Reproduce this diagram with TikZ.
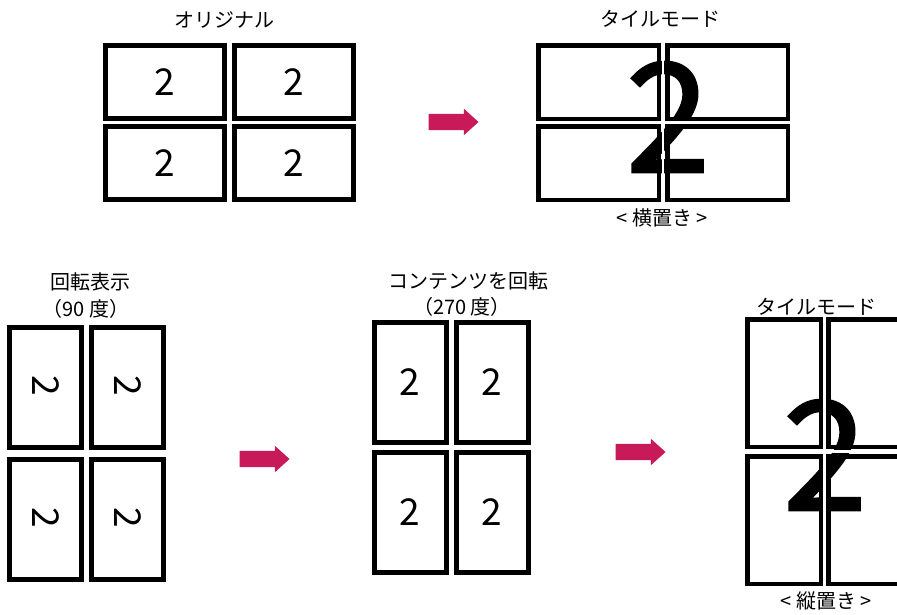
\documentclass[tikz,border=0pt]{standalone}
\usepackage{fontspec}
\setmainfont{Noto Sans CJK JP}
\newfontfamily\heavyfont[FakeBold=1.6]{Noto Sans CJK JP}
\usepackage{graphicx}
\usepackage{tikz}
\usetikzlibrary{shapes.arrows, positioning, calc}

\definecolor{arrowred}{RGB}{200,26,88}

\begin{document}
\begin{tikzpicture}[
            x=1pt, y=-1pt,
            caption/.style={font=\fontsize{20}{22}\selectfont, inner sep=0pt},
            num/.style={font=\fontsize{37}{37}\selectfont},
            bignum/.style={font=\heavyfont\fontsize{152}{152}\selectfont, inner sep=0pt},
            wide/.style={rectangle, draw, line width=5pt, minimum width=119pt, minimum height=73pt, inner sep=0pt, num},
            tall/.style={rectangle, draw, line width=5pt, minimum width=72pt, minimum height=120pt, inner sep=0pt, num},
            tilewide/.style={rectangle, draw, line width=4.5pt, minimum width=120.5pt, minimum height=73.5pt, inner sep=0pt},
            tiletall/.style={rectangle, draw, line width=4.5pt, minimum width=73.5pt, minimum height=127.5pt, inner sep=0pt},
            gapline/.style={draw=white, line width=2.5pt},
            bigarrow/.style={single arrow, fill=arrowred, draw=none, minimum height=50pt, inner xsep=0pt, inner ysep=8pt, single arrow head extend=5pt, single arrow tip angle=84}
        ]
        \useasboundingbox (0,0) rectangle (897,614);
        \clip (0,0) rectangle (897,614);

        % Original
        \node[caption] (origtitle) at (224,20) {オリジナル};
        \node[wide] (o1) at (165,82) {2};
        \node[wide, right=5pt of o1] (o2) {2};
        \node[wide, below=3pt of o1] (o3) {2};
        \node[wide, below=3pt of o2] (o4) {2};

        \node[bigarrow] (arr1) at (449,122) {};

        % Tile mode, landscape
        \node[caption] (tiletitle1) at (660,19) {タイルモード};
        \node[bignum] (big1) at (668,117) {2};
        \node[tilewide] (t1) at (598.5,82) {};
        \node[tilewide, right=4pt of t1] (t2) {};
        \node[tilewide, below=3pt of t1] (t3) {};
        \node[tilewide, below=3pt of t2] (t4) {};
        \draw[gapline] ($(t1.north east)!0.5!(t2.north west)$) -- ($(t3.south east)!0.5!(t4.south west)$);
        \draw[gapline] ($(t1.south west)!0.5!(t3.north west)$) -- ($(t2.south east)!0.5!(t4.north east)$);
        \node[caption] (landscape) at (662,218) {< 横置き >};

        % Rotated display
        \node[caption] (rottitle) at (90,282) {回転表示};
        \node[caption] (rotangle) at (86,309) {（90 度）};
        \node[tall] (r1) at (45.5,387.5) {\rotatebox[origin=c]{-90}{2}};
        \node[tall, right=5pt of r1] (r2) {\rotatebox[origin=c]{-90}{2}};
        \node[tall, below=7pt of r1] (r3) {\rotatebox[origin=c]{-90}{2}};
        \node[tall, below=7pt of r2] (r4) {\rotatebox[origin=c]{-90}{2}};

        \node[bigarrow] (arr2) at (260,459) {};

        % Rotated contents
        \node[caption] (conttitle) at (468,281) {コンテンツを回転};
        \node[caption] (contangle) at (462,307) {（270 度）};
        \node[tall] (c1) at (410,382.5) {2};
        \node[tall, right=5pt of c1] (c2) {2};
        \node[tall, below=5pt of c1] (c3) {2};
        \node[tall, below=5pt of c2] (c4) {2};

        \node[bigarrow] (arr3) at (636,452) {};

        % Tile mode, portrait
        \node[caption] (tiletitle2) at (816,307) {タイルモード};
        \node[bignum] (big2) at (825,455) {2};
        \node[tiletall] (p1) at (784,383) {};
        \node[tiletall, right=3pt of p1] (p2) {};
        \node[tiletall, below=5pt of p1] (p3) {};
        \node[tiletall, below=5pt of p2] (p4) {};
        \draw[gapline] ($(p1.north east)!0.5!(p2.north west)$) -- ($(p3.south east)!0.5!(p4.south west)$);
        \draw[gapline] ($(p1.south west)!0.5!(p3.north west)$) -- ($(p2.south east)!0.5!(p4.north east)$);
        \node[caption] (portrait) at (826,601) {< 縦置き >};

    \end{tikzpicture}
\end{document}
